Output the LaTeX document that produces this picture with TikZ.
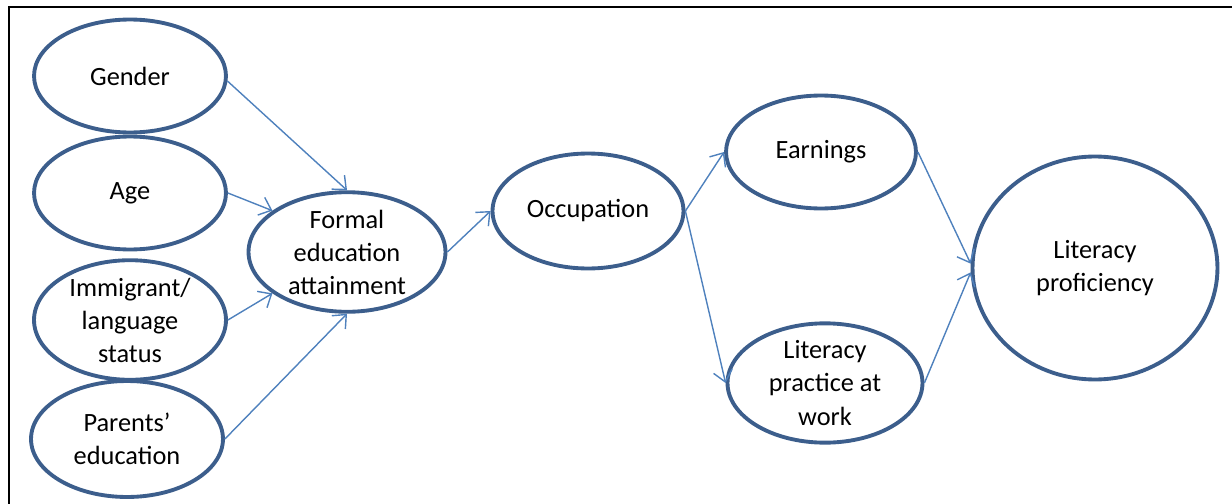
\documentclass[tikz,border=0pt]{standalone}
\usepackage{fontspec}
\setmainfont{Carlito}
\usepackage{tikz}
\usetikzlibrary{shapes.geometric,arrows.meta}

\definecolor{ringblue}{HTML}{3C5E8C}
\definecolor{arrowblue}{HTML}{4F81BD}

\begin{document}
\begin{tikzpicture}[
x=0.02cm,
y=-0.02cm,
every node/.style={
draw=ringblue,
line width=2.2pt,
ellipse,
inner sep=0pt,
minimum width=3.84cm,
minimum height=2.26cm,
align=center,
font=\fontsize{15}{18.8}\selectfont
},
link/.style={
draw=arrowblue,
line width=0.8pt,
-{Straight Barb[length=2.2mm,width=3.8mm]}
}
]

\useasboundingbox (0,0) rectangle (1232,504);
\draw[line width=0.8pt] (9,504) -- (9,7) -- (1232,7);

\node (GEN) at (130,76) {Gender};

\node (AGE) at (130,193) {Age};

\node (IMM) at (130,320) {Immigrant/\\language\\status};

\node[minimum height=2.32cm] (PAR) at (127,439) {Parents'\\education};

\node[minimum width=3.94cm, minimum height=2.34cm] (EDU) at (347,252) {Formal\\education\\attainment};

\node[minimum width=3.82cm, minimum height=2.3cm] (OCC) at (588,211) {Occupation};

\node[minimum width=3.8cm] (EARN) at (821,152) {Earnings};

\node[minimum width=3.9cm, minimum height=2.34cm] (PRAC) at (825,383) {Literacy\\practice at\\work};

\node[minimum width=4.9cm, minimum height=4.46cm] (LIT) at (1095,268) {Literacy\\proficiency};

\draw[link] (GEN.-3)--(EDU.north);
\draw[link] (AGE.east)--(EDU.151);
\draw[link] (IMM.east)--(EDU.209);
\draw[link] (PAR.east)--(EDU.south);
\draw[link] (EDU.east)--(OCC.west);
\draw[link] (OCC.east)--(EARN.west);
\draw[link] (OCC.east)--(PRAC.west);
\draw[link] (EARN.east)--(LIT.178);
\draw[link] (PRAC.east)--(LIT.182);

\end{tikzpicture}
\end{document}
